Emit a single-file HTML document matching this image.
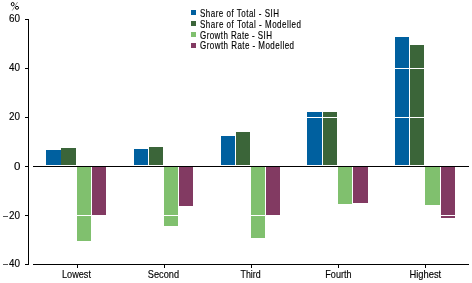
<!DOCTYPE html>
<html><head><meta charset="utf-8">
<style>
html,body{margin:0;padding:0;background:#fff;width:472px;height:283px;overflow:hidden}
svg{display:block;will-change:transform}
text{font-family:"Liberation Sans",sans-serif;fill:#000}
.ax{stroke:#000;stroke-width:0.15px}
</style></head><body>
<svg width="472" height="283" viewBox="0 0 472 283">
<g shape-rendering="crispEdges">
<rect x="46" y="150" width="15" height="15" fill="#00609f"/>
<rect x="61" y="148" width="15" height="17" fill="#3b6539"/>
<rect x="77" y="167" width="14" height="74" fill="#80c06e"/>
<rect x="92" y="167" width="14" height="48" fill="#823a62"/>
<rect x="134" y="149" width="14" height="16" fill="#00609f"/>
<rect x="149" y="147" width="14" height="18" fill="#3b6539"/>
<rect x="164" y="167" width="14" height="58.6" fill="#80c06e"/>
<rect x="179" y="167" width="14" height="38.6" fill="#823a62"/>
<rect x="221" y="136" width="14" height="29" fill="#00609f"/>
<rect x="236" y="132" width="14" height="33" fill="#3b6539"/>
<rect x="251" y="167" width="14" height="71" fill="#80c06e"/>
<rect x="266" y="167" width="14" height="48" fill="#823a62"/>
<rect x="307" y="112" width="15" height="53" fill="#00609f"/>
<rect x="323" y="112" width="14" height="53" fill="#3b6539"/>
<rect x="338" y="167" width="14" height="37" fill="#80c06e"/>
<rect x="353" y="167" width="15" height="36" fill="#823a62"/>
<rect x="395" y="37" width="14" height="128" fill="#00609f"/>
<rect x="410" y="45" width="14" height="120" fill="#3b6539"/>
<rect x="425" y="167" width="15" height="38" fill="#80c06e"/>
<rect x="441" y="167" width="14" height="51" fill="#823a62"/>
<rect x="33" y="68" width="436" height="1" fill="#fff"/>
<rect x="33" y="117" width="436" height="1" fill="#fff"/>
<rect x="33" y="215" width="436" height="1" fill="#fff"/>
<rect x="28" y="19" width="1" height="246" fill="#000"/>
<rect x="25" y="19" width="3" height="1" fill="#000"/>
<rect x="25" y="68" width="3" height="1" fill="#000"/>
<rect x="25" y="117" width="3" height="1" fill="#000"/>
<rect x="25" y="166" width="3" height="1" fill="#000"/>
<rect x="25" y="215" width="3" height="1" fill="#000"/>
<rect x="25" y="264" width="3" height="1" fill="#000"/>
<rect x="33" y="166" width="436" height="1" fill="#000"/>
<rect x="33" y="264" width="436" height="1" fill="#000"/>
<rect x="77" y="265" width="1" height="3" fill="#000"/>
<rect x="164" y="265" width="1" height="3" fill="#000"/>
<rect x="251" y="265" width="1" height="3" fill="#000"/>
<rect x="338" y="265" width="1" height="3" fill="#000"/>
<rect x="425" y="265" width="1" height="3" fill="#000"/>
<rect x="3" y="216" width="5" height="1" fill="#555"/>
<rect x="3" y="264" width="5" height="1" fill="#555"/>
<rect x="191" y="10" width="5" height="5" fill="#00609f"/>
<rect x="191" y="21" width="5" height="5" fill="#3b6539"/>
<rect x="191" y="32" width="5" height="5" fill="#80c06e"/>
<rect x="191" y="43" width="5" height="5" fill="#823a62"/>
</g>
<g fill="none" stroke="#000" stroke-width="1">
<ellipse cx="12.7" cy="4.15" rx="1.45" ry="1.7"/>
<ellipse cx="17" cy="7.8" rx="1.6" ry="1.45"/>
<line x1="17.6" y1="2" x2="12.2" y2="10.6" stroke="#888" stroke-width="0.9"/>
</g>
<text class="ax" x="20" y="22" text-anchor="end" font-size="10.7" textLength="11" lengthAdjust="spacingAndGlyphs">60</text>
<text class="ax" x="20" y="71" text-anchor="end" font-size="10.7" textLength="11" lengthAdjust="spacingAndGlyphs">40</text>
<text class="ax" x="20" y="120" text-anchor="end" font-size="10.7" textLength="11" lengthAdjust="spacingAndGlyphs">20</text>
<text class="ax" x="20.3" y="170" text-anchor="end" font-size="10.7" textLength="6.4" lengthAdjust="spacingAndGlyphs">0</text>
<text class="ax" x="20" y="219" text-anchor="end" font-size="10.7" textLength="11" lengthAdjust="spacingAndGlyphs">20</text>
<text class="ax" x="20" y="267" text-anchor="end" font-size="10.7" textLength="11" lengthAdjust="spacingAndGlyphs">40</text>
<text class="ax" x="76.5" y="278" text-anchor="middle" font-size="10.7" textLength="29" lengthAdjust="spacingAndGlyphs">Lowest</text>
<text class="ax" x="163.4" y="278" text-anchor="middle" font-size="10.7" textLength="31.2" lengthAdjust="spacingAndGlyphs">Second</text>
<text class="ax" x="250.6" y="278" text-anchor="middle" font-size="10.7" textLength="20.2" lengthAdjust="spacingAndGlyphs">Third</text>
<text class="ax" x="338.4" y="278" text-anchor="middle" font-size="10.7" textLength="26.2" lengthAdjust="spacingAndGlyphs">Fourth</text>
<text class="ax" x="425.3" y="278" text-anchor="middle" font-size="10.7" textLength="31.8" lengthAdjust="spacingAndGlyphs">Highest</text>
<text transform="translate(200,17.3) scale(0.8,1)" x="0" y="0" text-anchor="start" font-size="10" textLength="98.75" lengthAdjust="spacing" class="ax">Share of Total - SIH</text>
<text transform="translate(200,27.9) scale(0.8,1)" x="0" y="0" text-anchor="start" font-size="10" textLength="126.25" lengthAdjust="spacing" class="ax">Share of Total - Modelled</text>
<text transform="translate(200,38.5) scale(0.8,1)" x="0" y="0" text-anchor="start" font-size="10" textLength="90.0" lengthAdjust="spacing" class="ax">Growth Rate - SIH</text>
<text transform="translate(200,49.1) scale(0.8,1)" x="0" y="0" text-anchor="start" font-size="10" textLength="117.5" lengthAdjust="spacing" class="ax">Growth Rate - Modelled</text>
</svg>
</body></html>
